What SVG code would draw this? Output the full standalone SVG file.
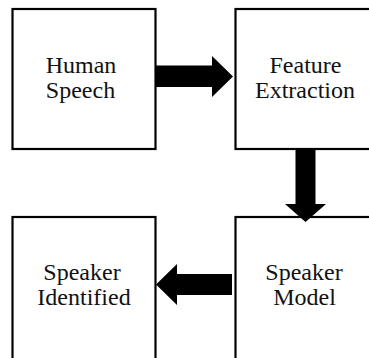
<svg xmlns="http://www.w3.org/2000/svg" width="369" height="358" viewBox="0 0 369 358">
  <style>
    .box { fill: #ffffff; stroke: #000000; stroke-width: 2.2; }
    .lbl { font-family: "Liberation Serif", "Times New Roman", serif; font-size: 24px; fill: #111111; text-anchor: middle; }
    .arrow { fill: #000000; stroke: none; }
  </style>
  <rect x="0" y="0" width="369" height="358" fill="#ffffff"/>
  <g id="node-human-speech">
    <rect class="box" x="12.5" y="9" width="143" height="140"/>
    <text class="lbl" x="81" y="72.5">Human</text>
    <text class="lbl" x="80.5" y="98">Speech</text>
  </g>
  <g id="node-feature-extraction">
    <rect class="box" x="235.5" y="9" width="150" height="140"/>
    <text class="lbl" x="305.5" y="72.5">Feature</text>
    <text class="lbl" x="305" y="98">Extraction</text>
  </g>
  <g id="node-speaker-identified">
    <rect class="box" x="12.5" y="217" width="143" height="160"/>
    <text class="lbl" x="82" y="280">Speaker</text>
    <text class="lbl" x="84" y="305">Identified</text>
  </g>
  <g id="node-speaker-model">
    <rect class="box" x="235.5" y="217" width="150" height="160"/>
    <text class="lbl" x="304" y="280">Speaker</text>
    <text class="lbl" x="304.5" y="305">Model</text>
  </g>
  <g id="connectors">
    <polygon class="arrow" points="156,65.5 212,65.5 212,56 233,76.5 212,97 212,87 156,87"/>
    <polygon class="arrow" points="295.5,150 315.5,150 315.5,204 326,204 305.5,222 285,204 295.5,204"/>
    <polygon class="arrow" points="232,274 177,274 177,264 156,284.5 177,305 177,295 232,295"/>
  </g>
</svg>
